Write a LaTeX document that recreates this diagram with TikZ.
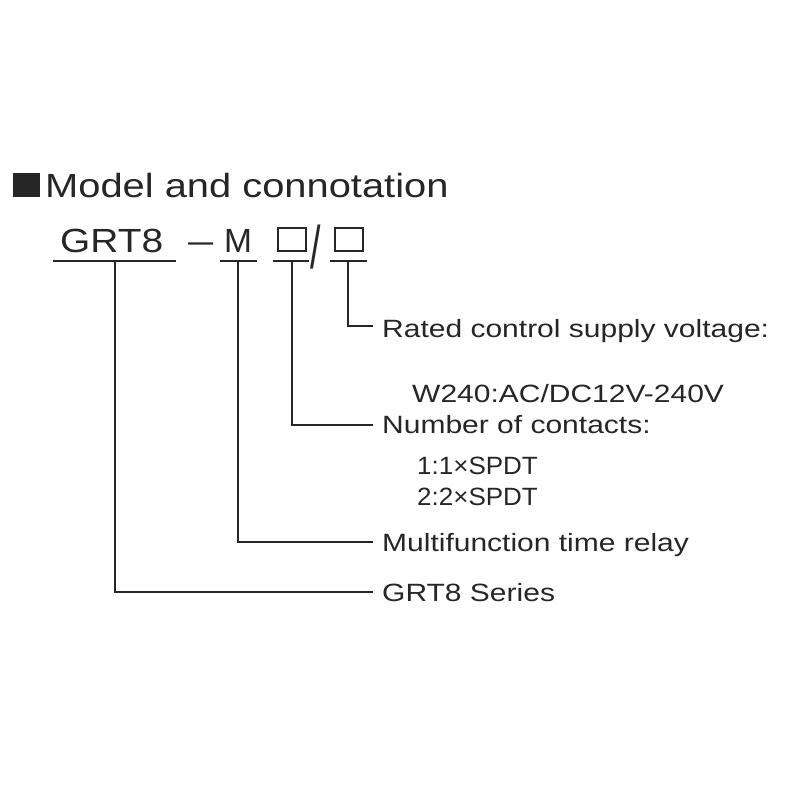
\documentclass[tikz,border=0pt]{standalone}
\usepackage{fontspec}
\setmainfont{Liberation Sans}
\newcommand{\hs}[2]{\scalebox{#1}[1]{#2}}
\begin{document}
\begin{tikzpicture}[x=1pt,y=-1pt,
  ln/.style={line width=1.8pt,black!85},
  lbl/.style={anchor=base west,inner sep=0pt,font=\fontsize{25}{25}\selectfont,text=black!85},
  sub/.style={anchor=base west,inner sep=0pt,font=\fontsize{25}{25}\selectfont,text=black!85},
  code/.style={anchor=base west,inner sep=0pt,font=\fontsize{33.5}{33.5}\selectfont,text=black!85},
  bx/.style={draw=black!85,line width=1.8pt,minimum width=28pt,minimum height=23pt,inner sep=0pt,anchor=south west}]
\useasboundingbox (0,0) rectangle (800,800);
% title
\fill[black!85] (13,173) rectangle (40,197);
\node[anchor=base west,inner sep=0pt,font=\fontsize{33.5}{33.5}\selectfont,text=black!85] (title) at (45,197) {\hs{1.19}{Model and connotation}};
% code
\node[code] (grt) at (60,252) {\hs{1.16}{GRT8}};
\node[code] (dash) at (188,252) {\hs{1.35}{–}};
\node[code] (m) at (224,252) {M};
\node[bx] (b1) at (277,252) {};
\node[anchor=base west,inner sep=0pt,font=\fontsize{30}{30}\selectfont,text=black!85] (slash) at (310,268) {\scalebox{1.25}[2]{/}};
\node[bx] (b2) at (334,252) {};
% underlines
\coordinate (u1) at (115,261);
\coordinate (u2) at (238,261);
\coordinate (u3) at (292,261);
\coordinate (u4) at (348,261);
\draw[ln] (53,261) -- (176,261);
\draw[ln] (220,261) -- (257,261);
\draw[ln] (273,261) -- (309,261);
\draw[ln] (330,261) -- (367,261);
% labels
\node[lbl] (rated) at (382,337) {\hs{1.2}{Rated control supply voltage:}};
\node[sub] (w240) at (412,402) {\hs{1.2}{W240:AC/DC12V-240V}};
\node[lbl] (num) at (382,433) {\hs{1.2}{Number of contacts:}};
\node[sub] (c1) at (417,474) {\hs{1.04}{1:1×SPDT}};
\node[sub] (c2) at (417,505) {\hs{1.04}{2:2×SPDT}};
\node[lbl] (multi) at (382,551) {\hs{1.2}{Multifunction time relay}};
\node[lbl] (ser) at (382,601) {\hs{1.2}{GRT8 Series}};
% connectors
\draw[ln] (u4) |- ([xshift=-9pt,yshift=11pt]rated.base west);
\draw[ln] (u3) |- ([xshift=-9pt,yshift=8pt]num.base west);
\draw[ln] (u2) |- ([xshift=-9pt,yshift=9pt]multi.base west);
\draw[ln] (u1) |- ([xshift=-9pt,yshift=9pt]ser.base west);
\end{tikzpicture}
\end{document}
